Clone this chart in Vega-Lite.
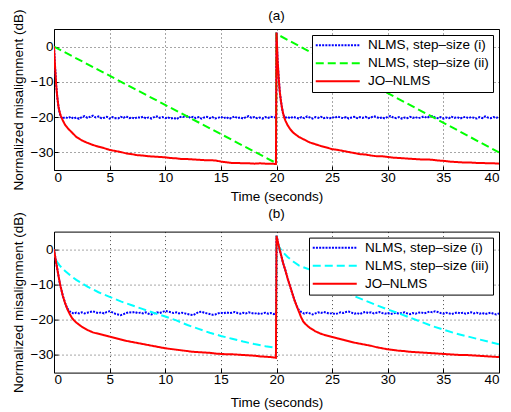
{
"$schema": "https://vega.github.io/schema/vega-lite/v6.json",
"padding": {"left": 10, "top": 8, "right": 1, "bottom": 1},
"config": {
  "font": "Liberation Sans",
  "view": {"stroke": "#000", "strokeWidth": 1},
  "axis": {"domain": false, "grid": true, "gridColor": "#000", "gridDash": [1, 3], "gridOpacity": 0.7, "ticks": true, "tickSize": -4, "tickColor": "#000", "labelFont": "Liberation Sans", "labelFontSize": 13.5, "labelColor": "#000", "titleFont": "Liberation Sans", "titleFontSize": 13.5, "titleFontWeight": "normal", "titleColor": "#000"},
  "axisY": {"titlePadding": 5, "labelPadding": 5},
  "axisX": {"titlePadding": 6, "labelPadding": 4},
  "title": {"font": "Liberation Sans", "fontSize": 13.5, "fontWeight": "normal", "color": "#000"},
  "legend": {"orient": "top-right", "offset": 6, "strokeColor": "#000", "fillColor": "#fff", "padding": 3.5, "symbolType": "M-3.25,0H18.75", "symbolSize": 16, "symbolStrokeWidth": 2, "labelFont": "Liberation Sans", "labelFontSize": 13.5, "labelColor": "#000", "labelOffset": 39, "rowPadding": 3, "title": null}
},
"datasets": {
"a": [
{"s":"i","t":0,"v":0},{"s":"i","t":0.1,"v":-6},{"s":"i","t":0.2,"v":-11},{"s":"i","t":0.3,"v":-14.5},{"s":"i","t":0.4,"v":-17},{"s":"i","t":0.5,"v":-18.7},{"s":"i","t":0.6,"v":-19.8},{"s":"i","t":0.75,"v":-20.4},
{"s":"i","t":1,"v":-20.0},{"s":"i","t":1.25,"v":-20.3},{"s":"i","t":1.5,"v":-19.9},{"s":"i","t":1.75,"v":-20.4},{"s":"i","t":2,"v":-20.1},{"s":"i","t":2.25,"v":-20.5},{"s":"i","t":2.5,"v":-20.0},{"s":"i","t":2.75,"v":-19.7},
{"s":"i","t":3,"v":-20.2},{"s":"i","t":3.25,"v":-19.9},{"s":"i","t":3.5,"v":-19.6},{"s":"i","t":3.75,"v":-20.1},{"s":"i","t":4,"v":-19.8},{"s":"i","t":4.25,"v":-20.3},{"s":"i","t":4.5,"v":-20.2},{"s":"i","t":4.75,"v":-19.9},
{"s":"i","t":5,"v":-20.4},{"s":"i","t":5.25,"v":-20.0},{"s":"i","t":5.5,"v":-20.3},{"s":"i","t":5.75,"v":-20.4},{"s":"i","t":6,"v":-19.9},{"s":"i","t":6.25,"v":-20.2},{"s":"i","t":6.5,"v":-19.8},{"s":"i","t":6.75,"v":-20.3},
{"s":"i","t":7,"v":-20.1},{"s":"i","t":7.25,"v":-20.4},{"s":"i","t":7.5,"v":-20.0},{"s":"i","t":7.75,"v":-20.2},{"s":"i","t":8,"v":-19.9},{"s":"i","t":8.25,"v":-20.3},{"s":"i","t":8.5,"v":-20.1},{"s":"i","t":8.75,"v":-20.4},
{"s":"i","t":9,"v":-20.0},{"s":"i","t":9.25,"v":-19.8},{"s":"i","t":9.5,"v":-20.2},{"s":"i","t":9.75,"v":-20.0},{"s":"i","t":10,"v":-20.3},{"s":"i","t":10.25,"v":-20.1},{"s":"i","t":10.5,"v":-20.4},{"s":"i","t":10.75,"v":-20.2},
{"s":"i","t":11,"v":-20.6},{"s":"i","t":11.25,"v":-20.1},{"s":"i","t":11.5,"v":-19.8},{"s":"i","t":11.75,"v":-20.0},{"s":"i","t":12,"v":-19.7},{"s":"i","t":12.25,"v":-20.2},{"s":"i","t":12.5,"v":-19.9},{"s":"i","t":12.75,"v":-20.3},
{"s":"i","t":13,"v":-20.0},{"s":"i","t":13.25,"v":-20.4},{"s":"i","t":13.5,"v":-20.1},{"s":"i","t":13.75,"v":-19.9},{"s":"i","t":14,"v":-20.3},{"s":"i","t":14.25,"v":-20.0},{"s":"i","t":14.5,"v":-20.4},{"s":"i","t":14.75,"v":-20.2},
{"s":"i","t":15,"v":-19.9},{"s":"i","t":15.25,"v":-20.3},{"s":"i","t":15.5,"v":-20.0},{"s":"i","t":15.75,"v":-20.5},{"s":"i","t":16,"v":-20.1},{"s":"i","t":16.25,"v":-19.8},{"s":"i","t":16.5,"v":-20.3},{"s":"i","t":16.75,"v":-20.1},
{"s":"i","t":17,"v":-20.4},{"s":"i","t":17.25,"v":-20.0},{"s":"i","t":17.5,"v":-19.7},{"s":"i","t":17.75,"v":-20.2},{"s":"i","t":18,"v":-20.0},{"s":"i","t":18.25,"v":-20.3},{"s":"i","t":18.5,"v":-20.1},{"s":"i","t":18.75,"v":-20.4},
{"s":"i","t":19,"v":-20.0},{"s":"i","t":19.25,"v":-20.2},{"s":"i","t":19.5,"v":-19.9},{"s":"i","t":19.75,"v":-20.1},{"s":"i","t":19.95,"v":-20.0},
{"s":"i","t":20,"v":4},{"s":"i","t":20.1,"v":-4},{"s":"i","t":20.2,"v":-9},{"s":"i","t":20.3,"v":-13},{"s":"i","t":20.4,"v":-15.5},{"s":"i","t":20.5,"v":-17.5},{"s":"i","t":20.6,"v":-19.2},{"s":"i","t":20.75,"v":-20.2},
{"s":"i","t":21,"v":-20.0},{"s":"i","t":21.25,"v":-20.3},{"s":"i","t":21.5,"v":-19.9},{"s":"i","t":21.75,"v":-20.2},{"s":"i","t":22,"v":-20.4},{"s":"i","t":22.25,"v":-20.0},{"s":"i","t":22.5,"v":-20.3},{"s":"i","t":22.75,"v":-19.8},
{"s":"i","t":23,"v":-20.1},{"s":"i","t":23.25,"v":-20.4},{"s":"i","t":23.5,"v":-20.0},{"s":"i","t":23.75,"v":-20.2},{"s":"i","t":24,"v":-19.9},{"s":"i","t":24.25,"v":-20.3},{"s":"i","t":24.5,"v":-20.1},{"s":"i","t":24.75,"v":-20.4},
{"s":"i","t":25,"v":-20.0},{"s":"i","t":25.25,"v":-20.2},{"s":"i","t":25.5,"v":-19.8},{"s":"i","t":25.75,"v":-20.1},{"s":"i","t":26,"v":-20.3},{"s":"i","t":26.25,"v":-20.0},{"s":"i","t":26.5,"v":-20.4},{"s":"i","t":26.75,"v":-20.1},
{"s":"i","t":27,"v":-19.9},{"s":"i","t":27.25,"v":-20.3},{"s":"i","t":27.5,"v":-20.0},{"s":"i","t":27.75,"v":-20.2},{"s":"i","t":28,"v":-19.9},{"s":"i","t":28.25,"v":-20.3},{"s":"i","t":28.5,"v":-20.1},{"s":"i","t":28.75,"v":-19.7},
{"s":"i","t":29,"v":-20.0},{"s":"i","t":29.25,"v":-20.3},{"s":"i","t":29.5,"v":-20.1},{"s":"i","t":29.75,"v":-20.4},{"s":"i","t":30,"v":-19.9},{"s":"i","t":30.25,"v":-19.7},{"s":"i","t":30.5,"v":-20.1},{"s":"i","t":30.75,"v":-20.3},
{"s":"i","t":31,"v":-20.0},{"s":"i","t":31.25,"v":-20.4},{"s":"i","t":31.5,"v":-20.1},{"s":"i","t":31.75,"v":-20.3},{"s":"i","t":32,"v":-19.9},{"s":"i","t":32.25,"v":-20.2},{"s":"i","t":32.5,"v":-20.0},{"s":"i","t":32.75,"v":-20.3},
{"s":"i","t":33,"v":-20.1},{"s":"i","t":33.25,"v":-19.8},{"s":"i","t":33.5,"v":-20.2},{"s":"i","t":33.75,"v":-19.9},{"s":"i","t":34,"v":-19.7},{"s":"i","t":34.25,"v":-20.1},{"s":"i","t":34.5,"v":-20.3},{"s":"i","t":34.75,"v":-20.0},
{"s":"i","t":35,"v":-20.4},{"s":"i","t":35.25,"v":-20.1},{"s":"i","t":35.5,"v":-20.3},{"s":"i","t":35.75,"v":-19.9},{"s":"i","t":36,"v":-20.2},{"s":"i","t":36.25,"v":-20.0},{"s":"i","t":36.5,"v":-20.4},{"s":"i","t":36.75,"v":-20.1},
{"s":"i","t":37,"v":-19.9},{"s":"i","t":37.25,"v":-20.3},{"s":"i","t":37.5,"v":-20.0},{"s":"i","t":37.75,"v":-20.2},{"s":"i","t":38,"v":-20.4},{"s":"i","t":38.25,"v":-20.0},{"s":"i","t":38.5,"v":-20.3},{"s":"i","t":38.75,"v":-19.8},
{"s":"i","t":39,"v":-20.1},{"s":"i","t":39.25,"v":-20.3},{"s":"i","t":39.5,"v":-20.0},{"s":"i","t":39.75,"v":-20.2},{"s":"i","t":40,"v":-20.0},
{"s":"ii","t":0,"v":0},{"s":"ii","t":19.95,"v":-33},{"s":"ii","t":20,"v":3.6},{"s":"ii","t":40,"v":-30},
{"s":"jo","t":0,"v":0},{"s":"jo","t":0.1,"v":-6},{"s":"jo","t":0.2,"v":-11},{"s":"jo","t":0.3,"v":-14.5},{"s":"jo","t":0.4,"v":-17},{"s":"jo","t":0.5,"v":-18.5},{"s":"jo","t":0.6,"v":-19.5},{"s":"jo","t":0.7,"v":-20.3},{"s":"jo","t":0.8,"v":-21},{"s":"jo","t":1,"v":-22.2},{"s":"jo","t":1.25,"v":-23.2},{"s":"jo","t":1.5,"v":-24},
{"s":"jo","t":2,"v":-25.6},{"s":"jo","t":2.5,"v":-26.6},{"s":"jo","t":3,"v":-27.3},{"s":"jo","t":3.5,"v":-27.9},{"s":"jo","t":4,"v":-28.4},{"s":"jo","t":4.5,"v":-28.8},{"s":"jo","t":5,"v":-29.3},{"s":"jo","t":5.5,"v":-29.6},{"s":"jo","t":6,"v":-29.9},{"s":"jo","t":6.5,"v":-30.3},
{"s":"jo","t":7,"v":-30.5},{"s":"jo","t":7.5,"v":-30.8},{"s":"jo","t":8,"v":-30.9},{"s":"jo","t":8.5,"v":-31.1},{"s":"jo","t":9,"v":-31.2},{"s":"jo","t":9.5,"v":-31.3},{"s":"jo","t":10,"v":-31.4},{"s":"jo","t":10.5,"v":-31.6},{"s":"jo","t":11,"v":-31.7},{"s":"jo","t":11.5,"v":-31.9},
{"s":"jo","t":12,"v":-31.9},{"s":"jo","t":12.5,"v":-32},{"s":"jo","t":13,"v":-32.1},{"s":"jo","t":13.5,"v":-32.2},{"s":"jo","t":14,"v":-32.2},{"s":"jo","t":14.5,"v":-32.3},{"s":"jo","t":15,"v":-32.6},{"s":"jo","t":15.5,"v":-32.8},{"s":"jo","t":16,"v":-33},{"s":"jo","t":16.5,"v":-33},
{"s":"jo","t":17,"v":-33.1},{"s":"jo","t":17.5,"v":-33.1},{"s":"jo","t":18,"v":-33.2},{"s":"jo","t":18.5,"v":-33.1},{"s":"jo","t":19,"v":-33.2},{"s":"jo","t":19.5,"v":-33.2},{"s":"jo","t":19.95,"v":-33.3},
{"s":"jo","t":20,"v":4},{"s":"jo","t":20.1,"v":-4},{"s":"jo","t":20.2,"v":-9},{"s":"jo","t":20.3,"v":-13},{"s":"jo","t":20.4,"v":-15.5},{"s":"jo","t":20.5,"v":-17.5},{"s":"jo","t":20.6,"v":-19},{"s":"jo","t":20.7,"v":-20.2},{"s":"jo","t":20.8,"v":-21},{"s":"jo","t":21,"v":-22.3},{"s":"jo","t":21.25,"v":-23.5},{"s":"jo","t":21.5,"v":-24.4},
{"s":"jo","t":22,"v":-25.6},{"s":"jo","t":22.5,"v":-26.4},{"s":"jo","t":23,"v":-27.2},{"s":"jo","t":23.5,"v":-27.7},{"s":"jo","t":24,"v":-28.2},{"s":"jo","t":24.5,"v":-28.6},{"s":"jo","t":25,"v":-29.1},{"s":"jo","t":25.5,"v":-29.3},{"s":"jo","t":26,"v":-29.6},{"s":"jo","t":26.5,"v":-29.9},
{"s":"jo","t":27,"v":-30.2},{"s":"jo","t":27.5,"v":-30.5},{"s":"jo","t":28,"v":-30.6},{"s":"jo","t":28.5,"v":-30.9},{"s":"jo","t":29,"v":-31.1},{"s":"jo","t":29.5,"v":-31.1},{"s":"jo","t":30,"v":-31.3},{"s":"jo","t":30.5,"v":-31.5},{"s":"jo","t":31,"v":-31.6},{"s":"jo","t":31.5,"v":-31.7},
{"s":"jo","t":32,"v":-31.8},{"s":"jo","t":32.5,"v":-31.9},{"s":"jo","t":33,"v":-32},{"s":"jo","t":33.5,"v":-32},{"s":"jo","t":34,"v":-32.1},{"s":"jo","t":34.5,"v":-32.3},{"s":"jo","t":35,"v":-32.4},{"s":"jo","t":35.5,"v":-32.6},{"s":"jo","t":36,"v":-32.7},{"s":"jo","t":36.5,"v":-32.8},
{"s":"jo","t":37,"v":-32.9},{"s":"jo","t":37.5,"v":-32.9},{"s":"jo","t":38,"v":-33},{"s":"jo","t":38.5,"v":-33},{"s":"jo","t":39,"v":-33.1},{"s":"jo","t":39.5,"v":-33.1},{"s":"jo","t":40,"v":-33.2}
],
"b": [
{"s":"i","t":0,"v":0},{"s":"i","t":0.1,"v":-2},{"s":"i","t":0.2,"v":-3.9},{"s":"i","t":0.3,"v":-5.7},{"s":"i","t":0.4,"v":-7.5},{"s":"i","t":0.5,"v":-9.2},{"s":"i","t":0.6,"v":-10.7},{"s":"i","t":0.8,"v":-13.3},{"s":"i","t":1,"v":-15.3},{"s":"i","t":1.2,"v":-16.8},{"s":"i","t":1.4,"v":-17.6},{"s":"i","t":1.6,"v":-18.0},
{"s":"i","t":1.8,"v":-18.3},{"s":"i","t":2,"v":-18.0},{"s":"i","t":2.25,"v":-18.2},{"s":"i","t":2.5,"v":-17.9},{"s":"i","t":2.75,"v":-18.2},{"s":"i","t":3,"v":-18.0},{"s":"i","t":3.25,"v":-17.8},{"s":"i","t":3.5,"v":-17.6},{"s":"i","t":3.75,"v":-17.9},
{"s":"i","t":4,"v":-18.1},{"s":"i","t":4.25,"v":-17.9},{"s":"i","t":4.5,"v":-18.2},{"s":"i","t":4.75,"v":-17.8},{"s":"i","t":5,"v":-17.6},{"s":"i","t":5.25,"v":-17.9},{"s":"i","t":5.5,"v":-18.3},{"s":"i","t":5.75,"v":-18.5},
{"s":"i","t":6,"v":-18.7},{"s":"i","t":6.25,"v":-18.4},{"s":"i","t":6.5,"v":-18.1},{"s":"i","t":6.75,"v":-17.9},{"s":"i","t":7,"v":-18.0},{"s":"i","t":7.25,"v":-17.8},{"s":"i","t":7.5,"v":-18.1},{"s":"i","t":7.75,"v":-18.0},
{"s":"i","t":8,"v":-18.2},{"s":"i","t":8.25,"v":-17.9},{"s":"i","t":8.5,"v":-18.3},{"s":"i","t":8.75,"v":-18.5},{"s":"i","t":9,"v":-18.2},{"s":"i","t":9.25,"v":-17.9},{"s":"i","t":9.5,"v":-18.1},{"s":"i","t":9.75,"v":-17.8},
{"s":"i","t":10,"v":-17.5},{"s":"i","t":10.25,"v":-17.7},{"s":"i","t":10.5,"v":-17.9},{"s":"i","t":10.75,"v":-18.1},{"s":"i","t":11,"v":-17.9},{"s":"i","t":11.25,"v":-18.2},{"s":"i","t":11.5,"v":-18.0},{"s":"i","t":11.75,"v":-18.2},
{"s":"i","t":12,"v":-18.4},{"s":"i","t":12.25,"v":-18.6},{"s":"i","t":12.5,"v":-18.7},{"s":"i","t":12.75,"v":-18.3},{"s":"i","t":13,"v":-17.8},{"s":"i","t":13.25,"v":-17.7},{"s":"i","t":13.5,"v":-18.0},{"s":"i","t":13.75,"v":-18.2},
{"s":"i","t":14,"v":-18.4},{"s":"i","t":14.25,"v":-18.6},{"s":"i","t":14.5,"v":-18.5},{"s":"i","t":14.75,"v":-18.2},{"s":"i","t":15,"v":-18.0},{"s":"i","t":15.25,"v":-18.2},{"s":"i","t":15.5,"v":-17.9},{"s":"i","t":15.75,"v":-18.1},
{"s":"i","t":16,"v":-18.0},{"s":"i","t":16.25,"v":-17.8},{"s":"i","t":16.5,"v":-18.1},{"s":"i","t":16.75,"v":-18.3},{"s":"i","t":17,"v":-18.0},{"s":"i","t":17.25,"v":-18.2},{"s":"i","t":17.5,"v":-17.9},{"s":"i","t":17.75,"v":-18.1},
{"s":"i","t":18,"v":-18.3},{"s":"i","t":18.25,"v":-18.1},{"s":"i","t":18.5,"v":-18.4},{"s":"i","t":18.75,"v":-18.2},{"s":"i","t":19,"v":-18.0},{"s":"i","t":19.25,"v":-18.3},{"s":"i","t":19.5,"v":-18.1},{"s":"i","t":19.75,"v":-18.4},{"s":"i","t":19.95,"v":-18.2},
{"s":"i","t":20,"v":3.8},{"s":"i","t":20.2,"v":1},{"s":"i","t":20.4,"v":-1.5},{"s":"i","t":20.6,"v":-4},{"s":"i","t":20.8,"v":-6},{"s":"i","t":21,"v":-8.3},{"s":"i","t":21.2,"v":-10.3},{"s":"i","t":21.4,"v":-12.3},{"s":"i","t":21.6,"v":-14.3},{"s":"i","t":21.8,"v":-16},{"s":"i","t":22,"v":-17.2},
{"s":"i","t":22.25,"v":-17.9},{"s":"i","t":22.5,"v":-18.3},{"s":"i","t":22.75,"v":-18.0},{"s":"i","t":23,"v":-18.2},{"s":"i","t":23.25,"v":-18.5},{"s":"i","t":23.5,"v":-18.2},{"s":"i","t":23.75,"v":-17.9},
{"s":"i","t":24,"v":-18.1},{"s":"i","t":24.25,"v":-17.8},{"s":"i","t":24.5,"v":-18.0},{"s":"i","t":24.75,"v":-18.3},{"s":"i","t":25,"v":-18.1},{"s":"i","t":25.25,"v":-18.4},{"s":"i","t":25.5,"v":-18.2},{"s":"i","t":25.75,"v":-17.9},
{"s":"i","t":26,"v":-18.1},{"s":"i","t":26.25,"v":-17.8},{"s":"i","t":26.5,"v":-17.7},{"s":"i","t":26.75,"v":-18.0},{"s":"i","t":27,"v":-18.3},{"s":"i","t":27.25,"v":-18.1},{"s":"i","t":27.5,"v":-18.4},{"s":"i","t":27.75,"v":-18.0},
{"s":"i","t":28,"v":-17.8},{"s":"i","t":28.25,"v":-18.1},{"s":"i","t":28.5,"v":-17.9},{"s":"i","t":28.75,"v":-18.2},{"s":"i","t":29,"v":-18.0},{"s":"i","t":29.25,"v":-17.8},{"s":"i","t":29.5,"v":-18.1},{"s":"i","t":29.75,"v":-18.3},
{"s":"i","t":30,"v":-18.1},{"s":"i","t":30.25,"v":-18.4},{"s":"i","t":30.5,"v":-18.2},{"s":"i","t":30.75,"v":-18.0},{"s":"i","t":31,"v":-18.3},{"s":"i","t":31.25,"v":-18.1},{"s":"i","t":31.5,"v":-17.9},{"s":"i","t":31.75,"v":-18.2},
{"s":"i","t":32,"v":-18.4},{"s":"i","t":32.25,"v":-18.1},{"s":"i","t":32.5,"v":-18.3},{"s":"i","t":32.75,"v":-18.0},{"s":"i","t":33,"v":-17.9},{"s":"i","t":33.25,"v":-18.2},{"s":"i","t":33.5,"v":-18.0},{"s":"i","t":33.75,"v":-17.7},
{"s":"i","t":34,"v":-17.9},{"s":"i","t":34.25,"v":-17.6},{"s":"i","t":34.5,"v":-17.8},{"s":"i","t":34.75,"v":-18.1},{"s":"i","t":35,"v":-18.3},{"s":"i","t":35.25,"v":-18.0},{"s":"i","t":35.5,"v":-18.2},{"s":"i","t":35.75,"v":-18.4},
{"s":"i","t":36,"v":-18.1},{"s":"i","t":36.25,"v":-17.9},{"s":"i","t":36.5,"v":-18.2},{"s":"i","t":36.75,"v":-18.0},{"s":"i","t":37,"v":-18.3},{"s":"i","t":37.25,"v":-18.1},{"s":"i","t":37.5,"v":-17.9},{"s":"i","t":37.75,"v":-18.2},
{"s":"i","t":38,"v":-18.0},{"s":"i","t":38.25,"v":-18.3},{"s":"i","t":38.5,"v":-18.1},{"s":"i","t":38.75,"v":-18.4},{"s":"i","t":39,"v":-18.2},{"s":"i","t":39.25,"v":-18.0},{"s":"i","t":39.5,"v":-18.3},{"s":"i","t":39.75,"v":-18.5},{"s":"i","t":40,"v":-18.2},
{"s":"iii","t":0,"v":0},{"s":"iii","t":0.1,"v":-2.5},{"s":"iii","t":0.3,"v":-3.7},{"s":"iii","t":0.5,"v":-4.6},{"s":"iii","t":1,"v":-6.2},{"s":"iii","t":1.5,"v":-7.5},{"s":"iii","t":2,"v":-8.7},{"s":"iii","t":3,"v":-10.6},{"s":"iii","t":4,"v":-12.2},{"s":"iii","t":5,"v":-13.5},
{"s":"iii","t":6,"v":-14.8},{"s":"iii","t":7,"v":-15.9},{"s":"iii","t":8,"v":-17},{"s":"iii","t":9,"v":-18.1},{"s":"iii","t":10,"v":-19.1},{"s":"iii","t":11,"v":-20.2},{"s":"iii","t":12,"v":-21.5},{"s":"iii","t":13,"v":-22.6},{"s":"iii","t":14,"v":-23.7},{"s":"iii","t":15,"v":-24.6},
{"s":"iii","t":16,"v":-25.4},{"s":"iii","t":17,"v":-26.2},{"s":"iii","t":18,"v":-26.9},{"s":"iii","t":19,"v":-27.5},{"s":"iii","t":19.95,"v":-28},
{"s":"iii","t":20,"v":3.9},{"s":"iii","t":20.1,"v":1.5},{"s":"iii","t":20.3,"v":0.3},{"s":"iii","t":20.5,"v":-0.6},{"s":"iii","t":21,"v":-2.2},{"s":"iii","t":21.5,"v":-3.5},{"s":"iii","t":22,"v":-4.6},{"s":"iii","t":23,"v":-5.8},{"s":"iii","t":24,"v":-8},{"s":"iii","t":25,"v":-10},
{"s":"iii","t":26,"v":-11.8},{"s":"iii","t":27,"v":-13.3},{"s":"iii","t":28,"v":-14.6},{"s":"iii","t":29,"v":-15.9},{"s":"iii","t":30,"v":-17.1},{"s":"iii","t":31,"v":-18.2},{"s":"iii","t":32,"v":-19.4},{"s":"iii","t":33,"v":-20.6},{"s":"iii","t":34,"v":-21.8},{"s":"iii","t":35,"v":-22.8},
{"s":"iii","t":36,"v":-23.8},{"s":"iii","t":37,"v":-24.6},{"s":"iii","t":38,"v":-25.4},{"s":"iii","t":39,"v":-26.2},{"s":"iii","t":40,"v":-27},
{"s":"jo","t":0,"v":0},{"s":"jo","t":0.1,"v":-2},{"s":"jo","t":0.2,"v":-3.9},{"s":"jo","t":0.3,"v":-5.7},{"s":"jo","t":0.4,"v":-7.5},{"s":"jo","t":0.5,"v":-9.2},{"s":"jo","t":0.6,"v":-10.7},{"s":"jo","t":0.8,"v":-13.3},{"s":"jo","t":1,"v":-15.3},{"s":"jo","t":1.2,"v":-17},{"s":"jo","t":1.4,"v":-18.3},{"s":"jo","t":1.6,"v":-19.4},{"s":"jo","t":1.8,"v":-20.2},
{"s":"jo","t":2,"v":-20.8},{"s":"jo","t":2.5,"v":-22},{"s":"jo","t":3,"v":-22.9},{"s":"jo","t":3.5,"v":-23.6},{"s":"jo","t":4,"v":-24},{"s":"jo","t":4.5,"v":-24.4},{"s":"jo","t":5,"v":-24.8},{"s":"jo","t":5.5,"v":-25.2},{"s":"jo","t":6,"v":-25.6},{"s":"jo","t":6.5,"v":-26},
{"s":"jo","t":7,"v":-26.3},{"s":"jo","t":7.5,"v":-26.6},{"s":"jo","t":8,"v":-26.9},{"s":"jo","t":8.5,"v":-27.2},{"s":"jo","t":9,"v":-27.5},{"s":"jo","t":9.5,"v":-27.8},{"s":"jo","t":10,"v":-28.1},{"s":"jo","t":10.5,"v":-28.3},{"s":"jo","t":11,"v":-28.5},{"s":"jo","t":11.5,"v":-28.7},
{"s":"jo","t":12,"v":-28.9},{"s":"jo","t":12.5,"v":-29.1},{"s":"jo","t":13,"v":-29.2},{"s":"jo","t":13.5,"v":-29.3},{"s":"jo","t":14,"v":-29.4},{"s":"jo","t":14.5,"v":-29.6},{"s":"jo","t":15,"v":-29.7},{"s":"jo","t":15.5,"v":-29.8},{"s":"jo","t":16,"v":-29.8},{"s":"jo","t":16.5,"v":-29.9},
{"s":"jo","t":17,"v":-30},{"s":"jo","t":17.5,"v":-30.1},{"s":"jo","t":18,"v":-30.2},{"s":"jo","t":18.5,"v":-30.4},{"s":"jo","t":19,"v":-30.5},{"s":"jo","t":19.5,"v":-30.6},{"s":"jo","t":19.95,"v":-30.8},
{"s":"jo","t":20,"v":3.8},{"s":"jo","t":20.2,"v":1},{"s":"jo","t":20.4,"v":-1.5},{"s":"jo","t":20.6,"v":-4},{"s":"jo","t":20.8,"v":-6},{"s":"jo","t":21,"v":-8.3},{"s":"jo","t":21.2,"v":-10.3},{"s":"jo","t":21.4,"v":-12.3},{"s":"jo","t":21.6,"v":-14.3},{"s":"jo","t":21.8,"v":-16},
{"s":"jo","t":22,"v":-17.6},{"s":"jo","t":22.2,"v":-19.2},{"s":"jo","t":22.4,"v":-20.5},{"s":"jo","t":22.6,"v":-21.2},{"s":"jo","t":22.8,"v":-21.8},{"s":"jo","t":23,"v":-22.3},{"s":"jo","t":23.5,"v":-23.3},{"s":"jo","t":24,"v":-24},{"s":"jo","t":24.5,"v":-24.5},{"s":"jo","t":25,"v":-24.9},
{"s":"jo","t":25.5,"v":-25.3},{"s":"jo","t":26,"v":-25.7},{"s":"jo","t":26.5,"v":-26.1},{"s":"jo","t":27,"v":-26.5},{"s":"jo","t":27.5,"v":-26.8},{"s":"jo","t":28,"v":-27.1},{"s":"jo","t":28.5,"v":-27.4},{"s":"jo","t":29,"v":-27.8},{"s":"jo","t":29.5,"v":-28.1},{"s":"jo","t":30,"v":-28.4},
{"s":"jo","t":30.5,"v":-28.6},{"s":"jo","t":31,"v":-28.8},{"s":"jo","t":31.5,"v":-28.9},{"s":"jo","t":32,"v":-29.1},{"s":"jo","t":32.5,"v":-29.2},{"s":"jo","t":33,"v":-29.3},{"s":"jo","t":33.5,"v":-29.4},{"s":"jo","t":34,"v":-29.5},{"s":"jo","t":34.5,"v":-29.6},{"s":"jo","t":35,"v":-29.7},
{"s":"jo","t":35.5,"v":-29.8},{"s":"jo","t":36,"v":-29.9},{"s":"jo","t":36.5,"v":-30},{"s":"jo","t":37,"v":-30},{"s":"jo","t":37.5,"v":-30.1},{"s":"jo","t":38,"v":-30.2},{"s":"jo","t":38.5,"v":-30.3},{"s":"jo","t":39,"v":-30.4},{"s":"jo","t":39.5,"v":-30.5},{"s":"jo","t":40,"v":-30.6}
]
},
"vconcat": [
{
  "title": {"text": "(a)", "offset": -13},
  "width": 445, "height": 141,
  "data": {"name": "a"},
  "mark": {"type": "line", "clip": true},
  "encoding": {
    "x": {"field": "t", "type": "quantitative", "scale": {"domain": [0, 40], "nice": false}, "axis": {"values": [0,5,10,15,20,25,30,35,40], "title": "Time (seconds)"}},
    "y": {"field": "v", "type": "quantitative", "scale": {"domain": [-35, 5], "nice": false}, "axis": {"values": [-30,-20,-10,0], "title": "Normalized misalignment (dB)"}},
    "color": {"field": "s", "type": "nominal", "scale": {"domain": ["i","ii","jo"], "range": ["#0000ff","#00ff00","#ff0000"]}, "legend": {"labelExpr": "datum.value == 'jo' ? 'JO–NLMS' : 'NLMS, step–size (' + datum.value + ')'"}},
    "strokeDash": {"field": "s", "type": "nominal", "scale": {"domain": ["i","ii","jo"], "range": [[2,1.2],[8,4],[1,0]]}, "legend": {"labelExpr": "datum.value == 'jo' ? 'JO–NLMS' : 'NLMS, step–size (' + datum.value + ')'"}},
    "strokeWidth": {"field": "s", "type": "nominal", "scale": {"domain": ["i","ii","jo"], "range": [2,2,2.5]}, "legend": {"labelExpr": "datum.value == 'jo' ? 'JO–NLMS' : 'NLMS, step–size (' + datum.value + ')'"}}
  }
},
{
  "title": {"text": "(b)", "offset": -9},
  "width": 445, "height": 141,
  "data": {"name": "b"},
  "mark": {"type": "line", "clip": true},
  "encoding": {
    "x": {"field": "t", "type": "quantitative", "scale": {"domain": [0, 40], "nice": false}, "axis": {"values": [0,5,10,15,20,25,30,35,40], "title": "Time (seconds)", "titlePadding": 9}},
    "y": {"field": "v", "type": "quantitative", "scale": {"domain": [-35, 5], "nice": false}, "axis": {"values": [-30,-20,-10,0], "title": "Normalized misalignment (dB)"}},
    "color": {"field": "s", "type": "nominal", "scale": {"domain": ["i","iii","jo"], "range": ["#0000ff","#00ffff","#ff0000"]}, "legend": {"labelExpr": "datum.value == 'jo' ? 'JO–NLMS' : 'NLMS, step–size (' + datum.value + ')'"}},
    "strokeDash": {"field": "s", "type": "nominal", "scale": {"domain": ["i","iii","jo"], "range": [[2,1.2],[8,4],[1,0]]}, "legend": {"labelExpr": "datum.value == 'jo' ? 'JO–NLMS' : 'NLMS, step–size (' + datum.value + ')'"}},
    "strokeWidth": {"field": "s", "type": "nominal", "scale": {"domain": ["i","iii","jo"], "range": [2,2,2.5]}, "legend": {"labelExpr": "datum.value == 'jo' ? 'JO–NLMS' : 'NLMS, step–size (' + datum.value + ')'"}}
  }
}
],
"spacing": 2.6,
"resolve": {"scale": {"color": "independent", "strokeDash": "independent", "strokeWidth": "independent"}, "legend": {"color": "independent", "strokeDash": "independent", "strokeWidth": "independent"}}
}
